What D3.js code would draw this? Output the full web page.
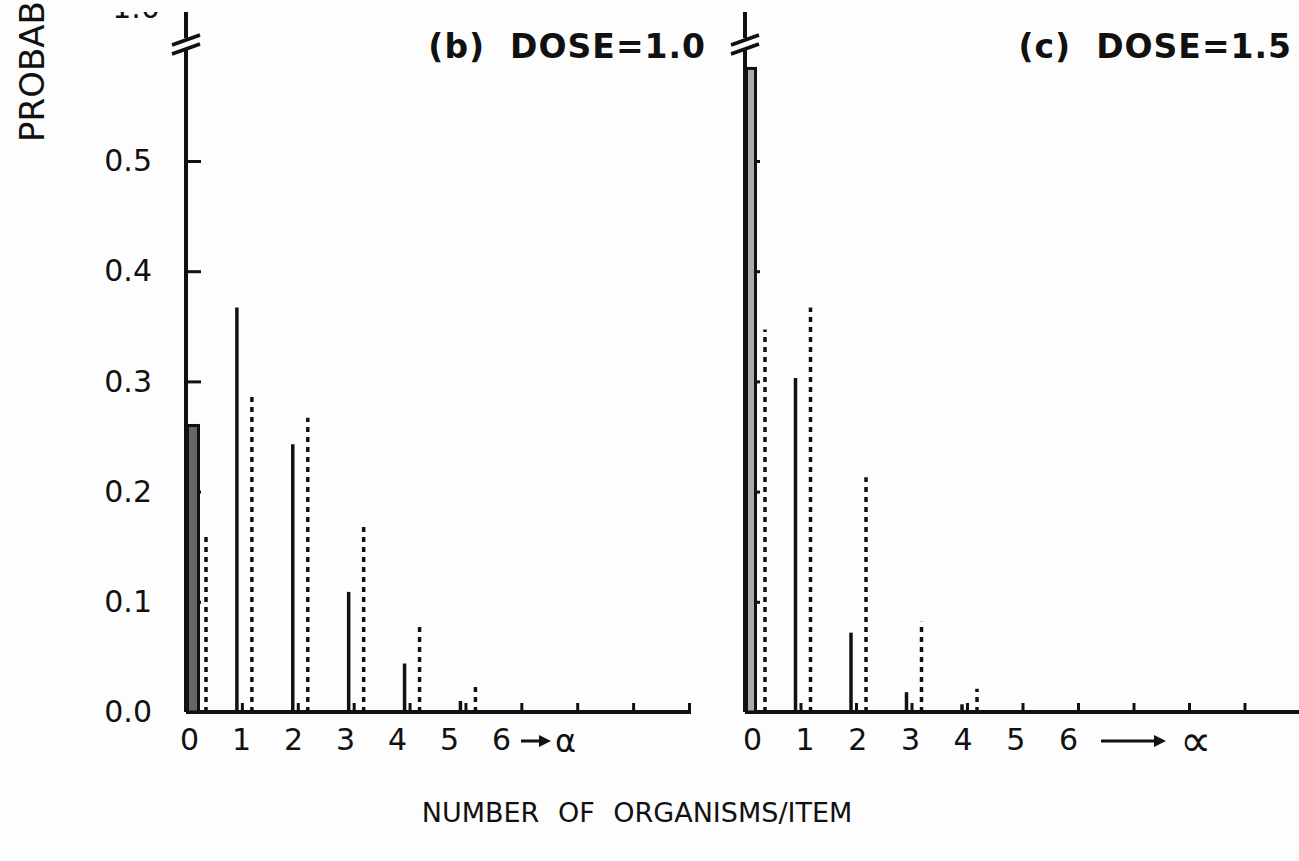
<!DOCTYPE html>
<html>
<head>
<meta charset="utf-8">
<script src="https://cdn.jsdelivr.net/npm/d3@7"></script>
<style>
	body { margin: 0; background: #fff; }
	svg { display: block; background: #fdfdfd; }
	text { font-family: "DejaVu Sans", sans-serif; fill: #111; }
</style>
</head>
<body>
<script>
// values, index = number of organisms per item
const counts = [0, 1, 2, 3, 4, 5, 6];
const yTicks = [0, 0.1, 0.2, 0.3, 0.4, 0.5];
const panelTitles = ['(b)  DOSE=1.0', '(c)  DOSE=1.5'];
const solidDose10 = [0.26, 0.367, 0.243, 0.109, 0.044, 0.01];
const dottedDose10 = [0.159, 0.288, 0.267, 0.17, 0.079, 0.027];
const solidDose15 = [0.584, 0.303, 0.072, 0.018, 0.007];
const dottedDose15 = [0.347, 0.367, 0.213, 0.082, 0.021];
const infinityMarks = ['\u03b1', '\u221d'];

const W = 1299, H = 861;
const svg = d3.select('body').append('svg')
	.attr('width', W)
	.attr('height', H);

// paper edge: everything starts below a thin white strip
svg.append('defs').append('clipPath').attr('id', 'page')
	.append('rect').attr('x', 0).attr('y', 12).attr('width', W).attr('height', H - 12);

const page = svg.append('g').attr('clip-path', 'url(#page)');

const y = d3.scaleLinear().domain([0, 0.5]).range([712, 161]);

const Panel = function (options) {
	this.title = options.title;
	this.solid = options.solid;
	this.dotted = options.dotted;
	this.labels = options.labels;
	this.mark = options.mark;
	this.arrow = options.arrow;
	this.box = options.box;
	this.titleRight = options.titleRight;
	this.kMax = options.kMax;
	this.x = d3.scaleLinear().domain([0, options.kMax]).range(options.range);
	// the hand lettering under the axis sits a little tighter than the ticks
	this.xl = d3.scaleLinear().domain([0, counts.length - 1]).range(options.labelRange);
	this.g = page.append('g');
};

Panel.prototype.drawAxes = function () {
	const x = this.x, g = this.g, ax = x(0);

	// y axis with a break near the top
	g.append('line').attr('x1', ax).attr('x2', ax).attr('y1', 12).attr('y2', 38)
		.attr('stroke', '#111').attr('stroke-width', 4);
	g.append('line').attr('x1', ax).attr('x2', ax).attr('y1', 50).attr('y2', y(0))
		.attr('stroke', '#111').attr('stroke-width', 4);
	[0, 9].forEach(function (d) {
		g.append('line')
			.attr('x1', ax - 14).attr('y1', 45 + d)
			.attr('x2', ax + 14).attr('y2', 35 + d)
			.attr('stroke', '#111').attr('stroke-width', 3.5);
	});

	const yAxis = d3.axisLeft(y)
		.tickValues(yTicks)
		.tickSizeInner(-15)
		.tickSizeOuter(0)
		.tickPadding(34)
		.tickFormat(this.labels ? d3.format('.1f') : '');
	const ya = g.append('g').attr('transform', 'translate(' + ax + ',0)').call(yAxis);
	ya.select('.domain').remove();
	ya.selectAll('line').attr('stroke', '#111').attr('stroke-width', 3);
	ya.selectAll('text').attr('font-size', 30).attr('fill', '#111');

	if (this.labels) {
		g.append('text')
			.attr('x', ax - 26).attr('y', 18)
			.attr('text-anchor', 'end')
			.attr('font-size', 30)
			.text('1.0');
	}

	// x axis: ticks point up
	g.append('line')
		.attr('x1', ax).attr('x2', Math.min(x(this.kMax) + 2, W))
		.attr('y1', y(0)).attr('y2', y(0))
		.attr('stroke', '#111').attr('stroke-width', 4);
	const xAxis = d3.axisBottom(x)
		.tickValues(d3.range(1, this.kMax + 1))
		.tickSizeInner(-9)
		.tickSizeOuter(0)
		.tickFormat('');
	const xa = g.append('g').attr('transform', 'translate(0,' + y(0) + ')').call(xAxis);
	xa.select('.domain').remove();
	xa.selectAll('line').attr('stroke', '#111').attr('stroke-width', 3);

	// labels 0..6 and then an arrow to infinity
	const labelAxis = d3.axisBottom(this.xl)
		.tickValues(counts)
		.tickFormat(d3.format('d'))
		.tickSize(0)
		.tickPadding(17);
	const la = g.append('g').attr('transform', 'translate(0,' + y(0) + ')').call(labelAxis);
	la.select('.domain').remove();
	la.selectAll('text').attr('font-size', 30).attr('fill', '#111');

	const ay = y(0) + 29, x6 = this.xl(counts.length - 1);
	g.append('line')
		.attr('x1', x6 + this.arrow[0]).attr('x2', x6 + this.arrow[1] - 8)
		.attr('y1', ay).attr('y2', ay)
		.attr('stroke', '#111').attr('stroke-width', 3);
	g.append('path')
		.attr('d', 'M' + (x6 + this.arrow[1]) + ',' + ay + 'l-12,-6v12z')
		.attr('fill', '#111');
	g.append('text')
		.attr('x', x6 + this.arrow[2]).attr('y', ay)
		.attr('dy', '0.35em')
		.attr('font-size', this.arrow[3])
		.text(this.mark);

	g.append('text')
		.attr('x', this.titleRight).attr('y', 58)
		.attr('text-anchor', 'end')
		.attr('font-size', 33)
		.attr('font-weight', 'bold')
		.attr('letter-spacing', 1)
		.attr('xml:space', 'preserve')
		.style('white-space', 'pre')
		.text(this.title);
};

Panel.prototype.drawBars = function () {
	const x = this.x, g = this.g;

	// count 0 of the solid series is a narrow box against the axis
	g.append('rect')
		.attr('x', x(0) + 1.5).attr('y', y(this.solid[0]))
		.attr('width', this.box[0]).attr('height', y(0) - y(this.solid[0]))
		.attr('fill', this.box[1]).attr('stroke', '#111').attr('stroke-width', 3);

	g.selectAll('.solid').data(this.solid.slice(1))
		.enter().append('line')
		.attr('class', 'solid')
		.attr('x1', function (d, i) { return x(i + 1) - 5; })
		.attr('x2', function (d, i) { return x(i + 1) - 5; })
		.attr('y1', y(0))
		.attr('y2', function (d) { return y(d); })
		.attr('stroke', '#111').attr('stroke-width', 3.5);

	g.selectAll('.dotted').data(this.dotted)
		.enter().append('line')
		.attr('class', 'dotted')
		.attr('x1', function (d, i) { return x(i) + (i === 0 ? 20 : 10); })
		.attr('x2', function (d, i) { return x(i) + (i === 0 ? 20 : 10); })
		.attr('y1', y(0))
		.attr('y2', function (d) { return y(d); })
		.attr('stroke', '#111').attr('stroke-width', 3.5)
		.attr('stroke-dasharray', '5,5');
};

const left = new Panel({
	title: panelTitles[0], solid: solidDose10, dotted: dottedDose10,
	labels: true, mark: infinityMarks[0], arrow: [20, 50, 54, 32],
	box: [11, '#666'], titleRight: 706,
	kMax: 9, range: [186, 689], labelRange: [189, 501]
});
left.drawAxes();
left.drawBars();

const right = new Panel({
	title: panelTitles[1], solid: solidDose15, dotted: dottedDose15,
	labels: false, mark: infinityMarks[1], arrow: [33, 98, 112, 44],
	box: [9, '#aaa'], titleRight: 1292,
	kMax: 10, range: [745, 1300], labelRange: [752, 1068]
});
right.drawAxes();
right.drawBars();

svg.append('text')
	.attr('transform', 'translate(44,142) rotate(-90)')
	.attr('font-size', 34)
	.text('PROBAB');

svg.append('text')
	.attr('x', 637).attr('y', 822)
	.attr('text-anchor', 'middle')
	.attr('font-size', 27)
	.attr('word-spacing', 10)
	.text('NUMBER OF ORGANISMS/ITEM');
</script>
</body>
</html>
